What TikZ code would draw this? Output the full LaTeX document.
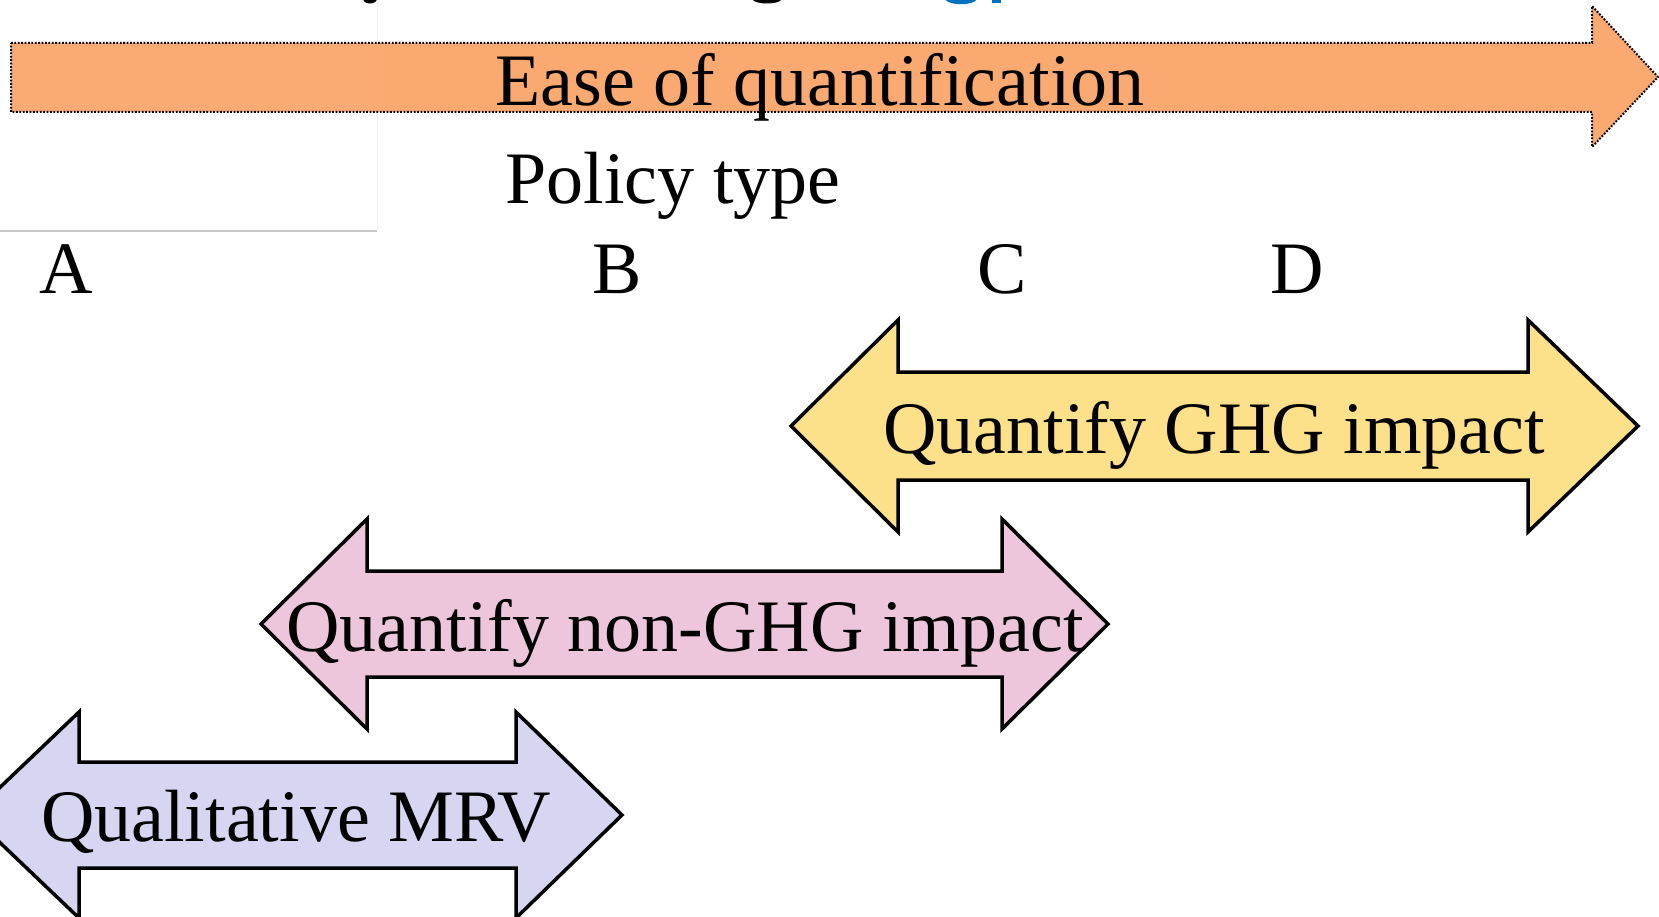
\documentclass[tikz,border=0pt]{standalone}
\usepackage{fontspec}
\setmainfont{Liberation Serif}
\definecolor{orangefill}{HTML}{FAA970}
\definecolor{orangeleft}{HTML}{F9AB73}
\definecolor{yellowfill}{HTML}{FDE08A}
\definecolor{pinkfill}{HTML}{EDC6DC}
\definecolor{lavfill}{HTML}{D6D6F2}
\definecolor{titleblue}{HTML}{0070C0}
\tikzset{
  bigarrow/.style={line width=3.5pt, draw=black, line join=miter},
  dotarrow/.style={draw=black, line width=2pt, dash pattern=on 1.8pt off 1.6pt},
  lbl/.style={anchor=base, inner sep=0pt, font=\fontsize{74}{88}\selectfont},
}
\begin{document}
\begin{tikzpicture}[x=1pt,y=-1pt]
\useasboundingbox (0,0) rectangle (1659,917);
\fill[white] (0,0) rectangle (1659,917);
% faint table lines
\draw[black!22, line width=1.2pt] (0,231) -- (377,231);
\draw[black!5, line width=1pt] (377,0) -- (377,231);
% cut-off title fragments
\fill[black] (363,-1) .. controls (364,5) and (376,5) .. (377,-1) -- cycle;
\fill[black] (752,-1) .. controls (755,5) and (779,5) .. (782,-1) -- cycle;
\fill[titleblue] (945,-1) .. controls (948,6) and (974,6) .. (977,-1) -- cycle;
\fill[titleblue] (992,-1) rectangle (1001,3);
% orange arrow
\path[dotarrow, fill=orangefill]
  (11,43) -- (1592,43) -- (1592,6) -- (1658,77) -- (1592,147) -- (1592,112) -- (11,112) -- cycle;
\fill[orangeleft] (13,45) rectangle (377,110);
\node[lbl] (ease) at (820,106) {Ease of quantification};
\node[lbl] (ptype) at (673,204) {Policy type};
\node[lbl] (A) at (66,294) {A};
\node[lbl] (B) at (617,294) {B};
\node[lbl] (C) at (1002,294) {C};
\node[lbl] (D) at (1297,294) {D};
% yellow double arrow
\path[bigarrow, fill=yellowfill]
  (791,426) -- (898,320) -- (898,372) -- (1528,372) -- (1528,320) -- (1638,426)
  -- (1528,532) -- (1528,480) -- (898,480) -- (898,532) -- cycle;
\node[lbl] (ghg) at (1214,453) {Quantify GHG impact};
% pink double arrow
\path[bigarrow, fill=pinkfill]
  (261,624) -- (367,519) -- (367,571) -- (1002,571) -- (1002,519) -- (1108,624)
  -- (1002,729) -- (1002,677) -- (367,677) -- (367,729) -- cycle;
\node[lbl] (nonghg) at (685,651) {Quantify non-GHG impact};
% lavender double arrow
\path[bigarrow, fill=lavfill]
  (-29,815) -- (79,712) -- (79,762) -- (516,762) -- (516,712) -- (622,815)
  -- (516,918) -- (516,868) -- (79,868) -- (79,918) -- cycle;
\node[lbl] (qual) at (296,841) {Qualitative MRV};
\end{tikzpicture}
\end{document}
